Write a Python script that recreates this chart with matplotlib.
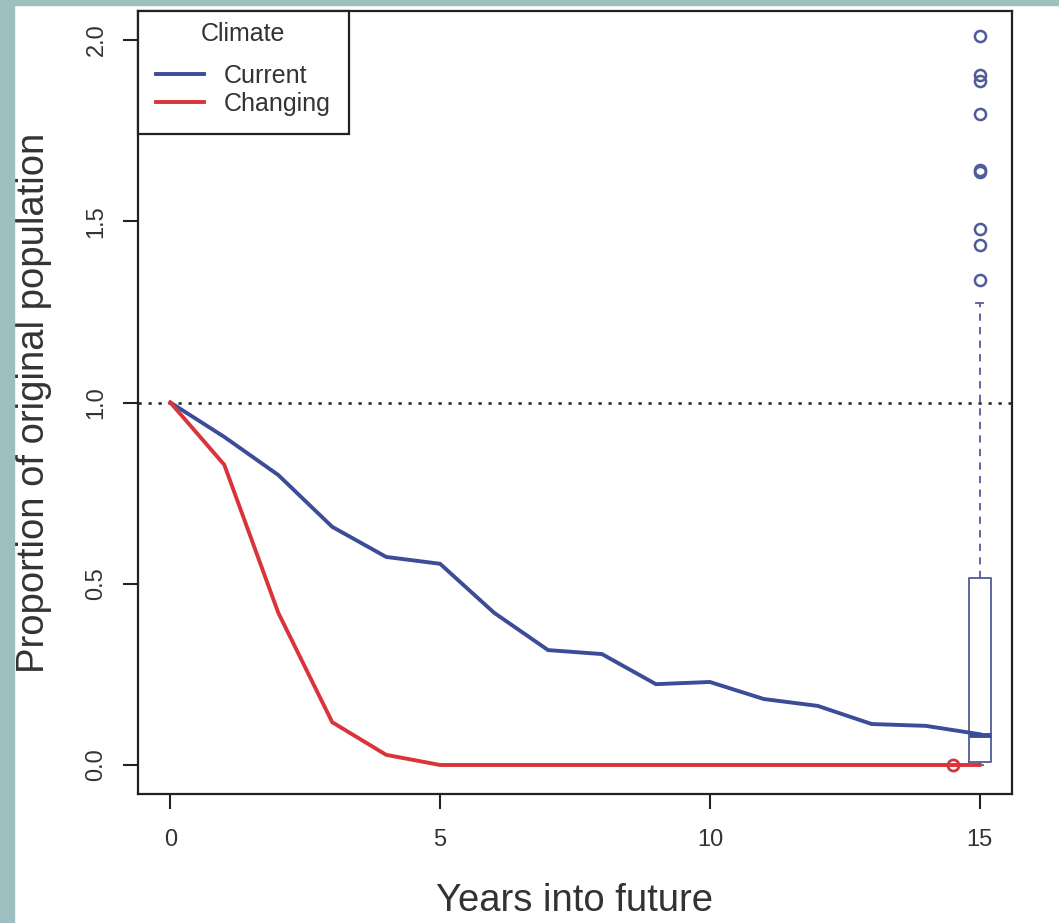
import matplotlib
matplotlib.use("Agg")
import matplotlib.pyplot as plt
from matplotlib.patches import Rectangle

plt.rcParams['font.family'] = ['Liberation Sans', 'DejaVu Sans']

years = list(range(16))
current = [1.0, 0.905, 0.80, 0.657, 0.574, 0.555, 0.42, 0.317, 0.306,
           0.223, 0.229, 0.182, 0.163, 0.113, 0.108, 0.085]
changing = [1.0, 0.828, 0.42, 0.118, 0.028, 0.0, 0.0, 0.0, 0.0,
            0.0, 0.0, 0.0, 0.0, 0.0, 0.0, 0.0]

# spread of final-year outcomes under current climate
final_stats = dict(med=0.083, q1=0.008, q3=0.516, whislo=0.0, whishi=1.275,
                   fliers=[2.012, 1.903, 1.887, 1.795, 1.641, 1.636,
                           1.480, 1.435, 1.338])
final_pos = 15
changing_final_x = 14.5
changing_final_y = 0.0

blue = '#3b4c98'
red = '#d8343a'
boxcol = '#4f5c98'
ink = '#333333'

fig = plt.figure(figsize=(10.59, 9.23), dpi=100)
fig.patch.set_facecolor('white')

ax = fig.add_axes([138 / 1059, 1 - 794 / 923, (1012 - 138) / 1059, (794 - 11) / 923])

ax.axhline(1.0, color='#222222', lw=1.8, ls=(0, (1.3, 2.7)), zorder=1)

ax.bxp([final_stats], positions=[final_pos], widths=0.41, capwidths=0.14,
       manage_ticks=False, patch_artist=False,
       boxprops=dict(color=boxcol, lw=1.3),
       medianprops=dict(color=blue, lw=3.5),
       whiskerprops=dict(color=boxcol, lw=1.3, ls=(0, (4, 3.5))),
       capprops=dict(color=boxcol, lw=1.3),
       flierprops=dict(marker='o', mfc='none', mec=boxcol, ms=8, mew=1.8))

ax.plot(years, current, color=blue, lw=2.8, label='Current', zorder=3)
ax.plot(years, changing, color=red, lw=2.8, label='Changing', zorder=3)
ax.plot([changing_final_x], [changing_final_y], 'o', mfc='none', mec=red,
        ms=8, mew=2, zorder=4)

ax.set_xlim(-0.6, 15.6)
ax.set_ylim(-0.08, 2.08)
ax.set_xticks([0, 5, 10, 15])
ax.set_xticklabels(['0', '5', '10', '15'])
ax.set_yticks([0.0, 0.5, 1.0, 1.5, 2.0])
ax.set_yticklabels(['0.0', '0.5', '1.0', '1.5', '2.0'], rotation=90, va='center')

for s in ax.spines.values():
    s.set_linewidth(1.6)
    s.set_color('#222222')
ax.tick_params(direction='out', length=11, width=1.5, color='#222222',
               labelsize=17, labelcolor=ink)
ax.tick_params(axis='x', pad=14)
ax.tick_params(axis='y', pad=11)

ax.set_xlabel('Years into future', fontsize=27.5, color=ink, labelpad=23)
ax.set_ylabel('Proportion of original population', fontsize=27.5, color=ink,
              labelpad=24)

leg = ax.legend(title='Climate', loc='upper left', borderaxespad=0,
                fontsize=18, title_fontsize=18, fancybox=False, framealpha=1,
                handlelength=1.9, handletextpad=0.8, borderpad=0.45,
                labelspacing=0.17)
leg.get_frame().set_edgecolor('#222222')
leg.get_frame().set_linewidth(1.6)
# extra room around the entries and below the title
leg._legend_handle_box.pad = 5
leg._legend_box.sep = 7.5
for t in leg.get_texts():
    t.set_color(ink)
leg.get_title().set_color(ink)

# grey-teal page edge
fig.patches.append(Rectangle((0, 0), 14 / 1059, 1, transform=fig.transFigure,
                             color='#9dbfbf', zorder=5))
fig.patches.append(Rectangle((0, 1 - 5 / 923), 1, 5 / 923, transform=fig.transFigure,
                             color='#9dbfbf', zorder=5))

fig.savefig('out.png', dpi=100, facecolor='white')
